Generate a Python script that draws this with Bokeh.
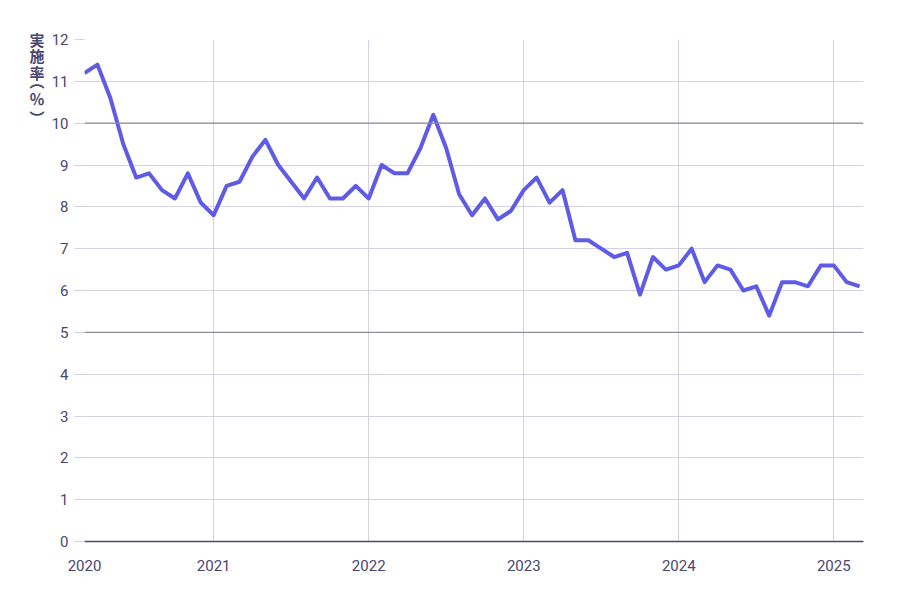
from bokeh.plotting import figure
from bokeh.models import Range1d, FixedTicker, Span, LinearAxis
from bokeh.embed import file_html
from bokeh.resources import INLINE

# Monthly data, 2020-03 .. 2025-03
months = list(range(61))
rate = [11.2, 11.4, 10.6, 9.5, 8.7, 8.8, 8.4, 8.2, 8.8, 8.1,
        7.8, 8.5, 8.6, 9.2, 9.6, 9.0, 8.6, 8.2, 8.7, 8.2, 8.2, 8.5,
        8.2, 9.0, 8.8, 8.8, 9.4, 10.2, 9.4, 8.3, 7.8, 8.2, 7.7, 7.9,
        8.4, 8.7, 8.1, 8.4, 7.2, 7.2, 7.0, 6.8, 6.9, 5.9, 6.8, 6.5,
        6.6, 7.0, 6.2, 6.6, 6.5, 6.0, 6.1, 5.4, 6.2, 6.2, 6.1, 6.6,
        6.6, 6.2, 6.1]
year_ticks = [0, 10, 22, 34, 46, 58]
year_labels = ["2020", "2021", "2022", "2023", "2024", "2025"]
y_ticks = list(range(0, 13))
# y-axis title "実施率（%）", written vertically one character per line
ylabel_chars = ["実", "施", "率", "︵", "％", "︶"]
ylabel_pos = [12.0, 11.61, 11.22, 11.02, 10.58, 10.14]

TXT = "#4a4670"
GRID = "#d3d1e2"

p = figure(width=892, height=592, output_backend="svg", toolbar_location=None,
           x_range=Range1d(0, 60.3), y_range=Range1d(0, 12),
           min_border_left=84, min_border_right=29, min_border_top=39, min_border_bottom=51)
p.outline_line_color = None
p.background_fill_color = "white"

p.line(months, rate, line_color="#5e5ce6", line_width=4, line_join="round")

p.xaxis.ticker = FixedTicker(ticks=year_ticks)
p.xaxis.major_label_overrides = {t: l for t, l in zip(year_ticks, year_labels)}
p.xaxis.axis_line_color = "#4c4872"
p.xaxis.axis_line_width = 1.5
p.xaxis.major_tick_line_color = None
p.xaxis.minor_tick_line_color = None
p.xaxis.major_label_standoff = 12
p.xaxis.major_label_text_font = "Roboto"
p.xaxis.major_label_text_font_size = "15px"
p.xaxis.major_label_text_color = TXT

p.yaxis.ticker = FixedTicker(ticks=y_ticks)
p.yaxis.axis_line_color = None
p.yaxis.major_tick_line_color = GRID
p.yaxis.major_tick_out = 10
p.yaxis.major_tick_in = 0
p.yaxis.minor_tick_line_color = None
p.yaxis.major_label_standoff = 6
p.yaxis.major_label_text_font = "Roboto"
p.yaxis.major_label_text_font_size = "15px"
p.yaxis.major_label_text_color = TXT

title_axis = LinearAxis(ticker=FixedTicker(ticks=ylabel_pos),
                        major_label_overrides={v: c for v, c in zip(ylabel_pos, ylabel_chars)})
title_axis.axis_line_color = None
title_axis.major_tick_line_color = None
title_axis.minor_tick_line_color = None
title_axis.major_label_standoff = -2
title_axis.major_label_text_font = "Noto Sans CJK JP"
title_axis.major_label_text_font_style = "bold"
title_axis.major_label_text_font_size = "15px"
title_axis.major_label_text_color = TXT
p.add_layout(title_axis, "left")

p.xgrid.ticker = FixedTicker(ticks=year_ticks)
p.xgrid.grid_line_color = GRID
p.ygrid.grid_line_color = GRID

for v in (5, 10):
    p.add_layout(Span(location=v, dimension="width", line_color="#8e8aa0", line_width=1.3))

open("out.html", "w").write(file_html(p, INLINE))
